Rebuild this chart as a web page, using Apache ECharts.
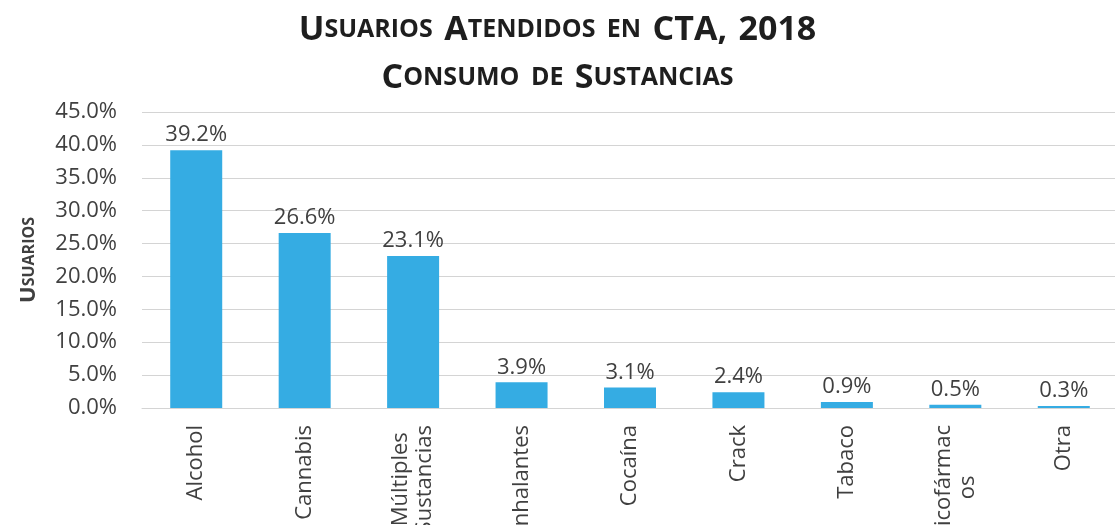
<!DOCTYPE html>
<html>
<head>
<meta charset="utf-8">
<script src="https://cdn.jsdelivr.net/npm/echarts@6/dist/echarts.min.js"></script>
<style>
html, body { margin: 0; padding: 0; background: #fff; }
#chart { width: 1115px; height: 525px; }
</style>
</head>
<body>
<div id="chart"></div>
<script>
// substances (two-line names keep their break)
var categories = ['Alcohol', 'Cannabis', 'Múltiples\nSustancias', 'Inhalantes', 'Cocaína', 'Crack', 'Tabaco', 'Psicofármac\nos', 'Otra'];
var usuarios = [39.2, 26.6, 23.1, 3.9, 3.1, 2.4, 0.9, 0.5, 0.3];
var yTicks = [0, 5, 10, 15, 20, 25, 30, 35, 40, 45];

var textColor = '#404040';
var font = '"Open Sans", "Noto Sans", sans-serif';

// fake small caps: big initials, smaller capitals, wide word gaps
var capsRich = {
  b: { fontFamily: font, fontWeight: 'bold', fontSize: 34, lineHeight: 40, color: '#1e1e1e' },
  s: { fontFamily: font, fontWeight: 'bold', fontSize: 25, lineHeight: 40, color: '#1e1e1e' },
  g: { fontFamily: font, fontSize: 44, lineHeight: 40 }
};

var chart = echarts.init(document.getElementById('chart'));
chart.setOption({
  animation: false,
  backgroundColor: '#fff',
  title: {
    left: 'center',
    top: 5,
    itemGap: 4,
    text: '{b|U}{s|SUARIOS}{g| }{b|A}{s|TENDIDOS}{g| }{s|EN}{g| }{b|CTA,}{g| }{b|2018}',
    subtext: '{b|C}{s|ONSUMO}{g| }{s|DE}{g| }{b|S}{s|USTANCIAS}',
    textStyle: { rich: capsRich },
    subtextStyle: { rich: capsRich }
  },
  grid: { left: 142, top: 112, bottom: 117, width: 976, outerBoundsMode: 'none' },
  xAxis: {
    type: 'category',
    data: categories,
    axisTick: { show: false },
    axisLine: { lineStyle: { color: '#d4d4d4', width: 1 } },
    axisLabel: {
      rotate: 90,
      margin: 17,
      interval: 0,
      formatter: function (v) {
        return v.split('\n').map(function (l) { return '{c|' + l + '}'; }).join('\n');
      },
      rich: {
        c: { align: 'center', fontFamily: font, fontSize: 22, color: textColor, lineHeight: 24 }
      }
    }
  },
  yAxis: {
    type: 'value',
    min: yTicks[0],
    max: yTicks[yTicks.length - 1],
    interval: 5,
    name: '{b|U}{s|SUARIOS}',
    nameLocation: 'middle',
    nameRotate: 90,
    nameGap: 102,
    nameTextStyle: {
      rich: {
        b: { fontFamily: font, fontWeight: 'bold', fontSize: 22, color: textColor },
        s: { fontFamily: font, fontWeight: 'bold', fontSize: 16, color: textColor }
      }
    },
    axisLine: { show: false },
    axisTick: { show: false },
    axisLabel: {
      margin: 25,
      fontFamily: font,
      fontSize: 22,
      color: textColor,
      formatter: function (v) { return v.toFixed(1) + '%'; }
    },
    splitLine: { lineStyle: { color: '#d4d4d4', width: 1 } }
  },
  series: [{
    type: 'bar',
    data: usuarios,
    barWidth: 52,
    itemStyle: { color: '#35ace3' },
    label: {
      show: true,
      position: 'top',
      distance: 4,
      fontFamily: font,
      fontSize: 22,
      color: textColor,
      formatter: function (p) { return p.value.toFixed(1) + '%'; }
    }
  }]
});
</script>
</body>
</html>
